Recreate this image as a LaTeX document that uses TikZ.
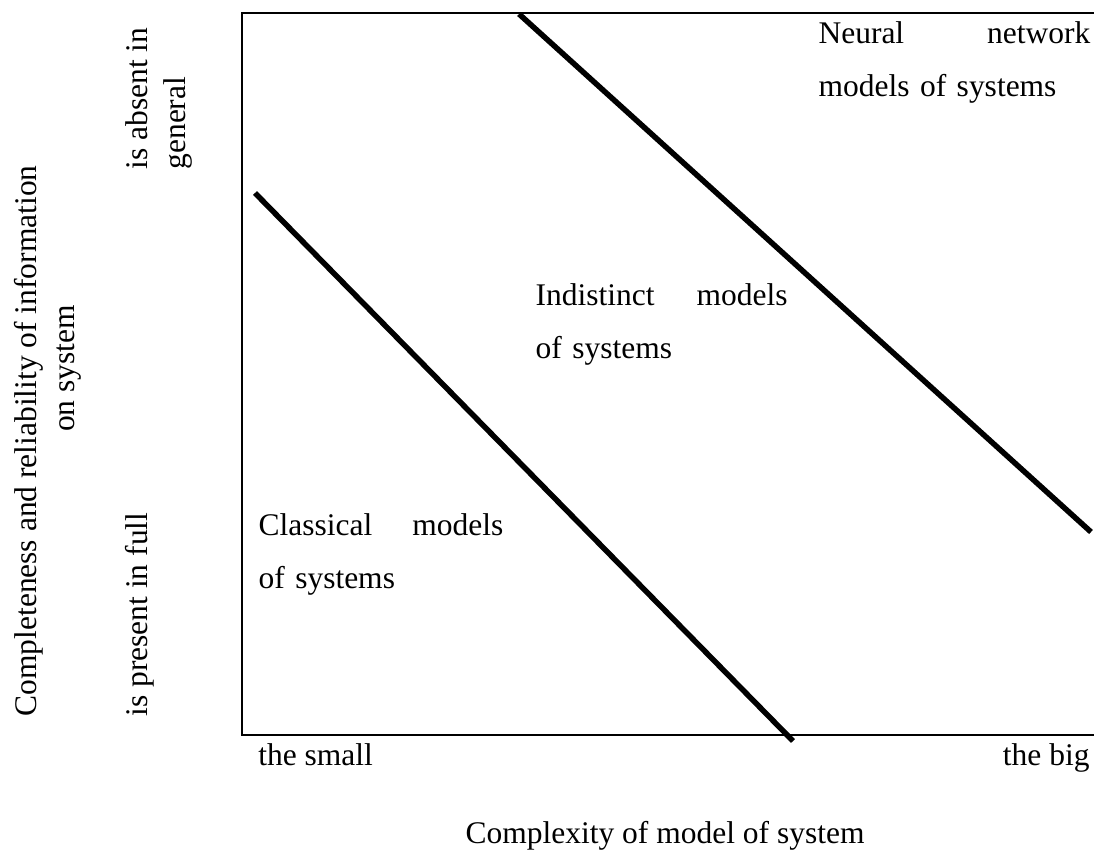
\documentclass[tikz,border=0pt]{standalone}
\usepackage{fontspec}
\setmainfont{Liberation Serif}
\usetikzlibrary{positioning}

\begin{document}
\begin{tikzpicture}[
	x=0.381pt, y=-0.381pt,
	every node/.style={inner sep=0pt, font=\fontsize{12}{14.5}\selectfont},
	axis/.style={line width=1.1pt},
	border/.style={line width=2.1pt},
	region/.style={anchor=north west, align=left, font=\fontsize{12}{20}\selectfont},
	sideways/.style={rotate=90},
]
	\useasboundingbox (0,0) rectangle (1094,858);

	% Axes
	\coordinate (o) at (242,735);
	\coordinate (ytop) at (242,13);
	\coordinate (xend) at (1094,735);
	\draw[axis] (1094,13) -- (ytop) -- (o) -- (xend);

	% Borders between the classes of models
	\coordinate (b1s) at (255,193);
	\coordinate (b1e) at (793,741);
	\coordinate (b2s) at (519,14);
	\coordinate (b2e) at (1091,532);
	\draw[border] (b1s) -- (b1e);
	\draw[border] (b2s) -- (b2e);

	% Classes of models
	\node[region, text width=93.3pt] (classical) at (258,513.5) {Classical\hfill models\\of systems};
	\node[region, text width=96pt] (indistinct) at (535,283.5) {Indistinct\hfill models\\of systems};
	\node[region, text width=103.6pt] (neural) at (818,21.5) {Neural\hfill network\\models of systems};

	% Horizontal axis labels
	\node[below right=3.2pt and 6pt of o] (small) {the small};
	\node[below left=3.2pt and 1.5pt of xend] (big) {the big};
	\node[anchor=base] (complexity) at (665,843) {Complexity of model of system};

	% Vertical axis labels
	\node[sideways, anchor=north west, align=center] (info) at (13.5,717) {Completeness and reliability of information\\\hspace*{4.6em}on system};
	\node[sideways, anchor=north west, align=left] (absent) at (125.5,170) {is absent in\\general};
	\node[sideways, anchor=base west] (present) at (147,717) {is present in full};
\end{tikzpicture}
\end{document}
